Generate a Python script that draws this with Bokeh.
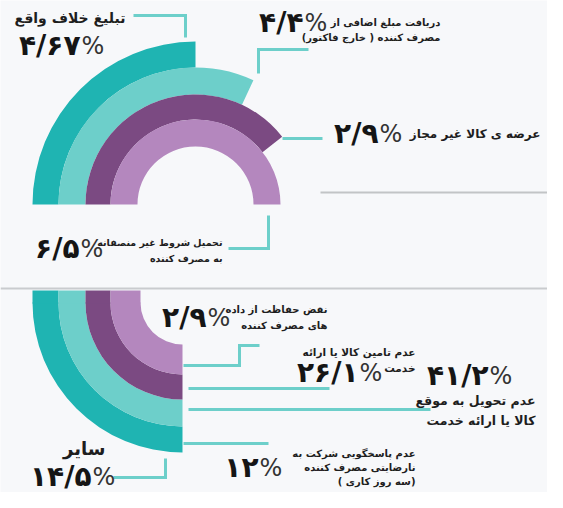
import math
from bokeh.plotting import figure
from bokeh.models import Range1d, ColumnDataSource
from bokeh.core.properties import value
from bokeh.embed import file_html
from bokeh.resources import INLINE

# ---------------- data ----------------
top_labels = [
    "تبلیغ خلاف واقع",
    "دریافت مبلغ اضافی از\nمصرف کننده ( خارج فاکتور)",
    "عرضه ی کالا غیر مجاز",
    "تحمیل شروط غیر منصفانه\nبه مصرف کننده",
]
top_values = [4.67, 4.4, 2.9, 6.5]

bottom_labels = [
    "نقض حفاظت از داده\nهای مصرف کننده",
    "عدم تامین کالا یا ارائه\nخدمت",
    "عدم تحویل به موقع\nکالا یا ارائه خدمت",
    "عدم پاسخگویی شرکت به\nنارضایتی مصرف کننده\n( سه روز کاری)",
    "سایر",
]
bottom_values = [2.9, 26.1, 41.2, 12, 14.5]

# ---------------- style / layout ----------------
band_colors = ["#1fb4b2", "#6dcfca", "#7b4a82", "#b487be"]
line_color = "#6dcfca"
bg = "#f7f8fa"
FONT = "DejaVu Sans"
H = 508

def Y(py):
    return H - py

FA = str.maketrans("0123456789.", "۰۱۲۳۴۵۶۷۸۹/")
def fa(v):
    return f"{v:g}".translate(FA)

p = figure(width=547, height=492, x_range=Range1d(0, 547), y_range=Range1d(16, 508),
           output_backend="svg", toolbar_location=None, min_border=0,
           background_fill_color=bg, border_fill_color=bg)
p.axis.visible = False
p.grid.visible = False
p.outline_line_color = None

# separators
p.line([0, 563], [Y(288), Y(288)], line_color="#c9cbce", line_width=2)
p.line([320, 563], [Y(192), Y(192)], line_color="#c2c4c6", line_width=2)

# ---- top arcs ----
tcx, tcy = 195, 204
t_radii = [163, 137, 110, 85, 58]
t_end_deg = [90, 65, 38, 0]
tsrc = ColumnDataSource(dict(
    x=[tcx] * 4, y=[Y(tcy)] * 4,
    outer=t_radii[:4], inner=t_radii[1:],
    start=[math.radians(d) for d in t_end_deg], end=[math.pi] * 4,
    color=band_colors))
p.annular_wedge(x="x", y="y", inner_radius="inner", outer_radius="outer",
                start_angle="start", end_angle="end", direction="anticlock",
                fill_color="color", line_color=None, source=tsrc)

# ---- bottom arcs ----
bcx, bcy, btop = 182, 302, 290
b_radii = [150, 124, 97, 72, 42]
bsrc = ColumnDataSource(dict(
    x=[bcx] * 4, y=[Y(bcy)] * 4,
    outer=b_radii[:4], inner=b_radii[1:],
    start=[math.pi] * 4, end=[1.5 * math.pi] * 4,
    color=band_colors,
    left=[bcx - r for r in b_radii[:4]], right=[bcx - r for r in b_radii[1:]],
    bottom=[Y(bcy) - 1] * 4, top=[Y(btop)] * 4))
p.annular_wedge(x="x", y="y", inner_radius="inner", outer_radius="outer",
                start_angle="start", end_angle="end", direction="anticlock",
                fill_color="color", line_color=None, source=bsrc)
p.quad(left="left", right="right", bottom="bottom", top="top",
       fill_color="color", line_color=None, source=bsrc)

# ---- connectors ----
connectors = [
    [(133, 15), (185, 15), (185, 37)],
    [(308, 49), (258, 49), (258, 73)],
    [(282, 138), (322, 138)],
    [(268, 215), (268, 248), (228, 248)],
    [(183, 365), (239, 365), (239, 345), (259, 345)],
    [(188, 388), (329, 388)],
    [(188, 409), (430, 409)],
    [(183, 443), (268, 443)],
    [(113, 477), (165, 477), (165, 458)],
]
p.multi_line(xs=[[a for a, b in c] for c in connectors],
             ys=[[Y(b) for a, b in c] for c in connectors],
             line_color=line_color, line_width=3, line_join="miter")

# ---- labels ----
labels = top_labels + bottom_labels
label_pos = [(125, 17, 15, 14), (440, 22, 15, 10), (540, 133, 15, 12), (222, 242, 16, 9.5),
             (327, 309, 16, 10), (415, 351, 16, 10.5), (535, 400, 20, 12.5), (415, 453, 14, 10),
             (105, 448, 0, 18)]
for lab, (x, y, sp, fs) in zip(labels, label_pos):
    lines = lab.split("\n")
    p.text(x=[x] * len(lines), y=[Y(y + i * sp) for i in range(len(lines))], text=lines,
           text_align="right", text_baseline="middle", text_font=value(FONT),
           text_font_style="bold", text_font_size=f"{fs}px", text_color="#1e1e1e")

# ---- numbers ----
values = top_values + bottom_values
num_pos = [(80, 45), (303, 22), (378, 133), (79, 248),
           (206, 317), (358, 372), (488, 375), (258, 467), (91, 476)]
p.text(x=[x for x, y in num_pos], y=[Y(y) for x, y in num_pos], text=[fa(v) for v in values],
       text_align="right", text_baseline="middle", text_font=value(FONT),
       text_font_style="bold", text_font_size="28px", text_color="#151515")
p.text(x=[x + 1 for x, y in num_pos], y=[Y(y) for x, y in num_pos], text=["%"] * len(values),
       text_align="left", text_baseline="middle", text_font=value(FONT),
       text_font_style="normal", text_font_size="24px", text_color="#333333")

open("out.html", "w").write(file_html(p, INLINE))
